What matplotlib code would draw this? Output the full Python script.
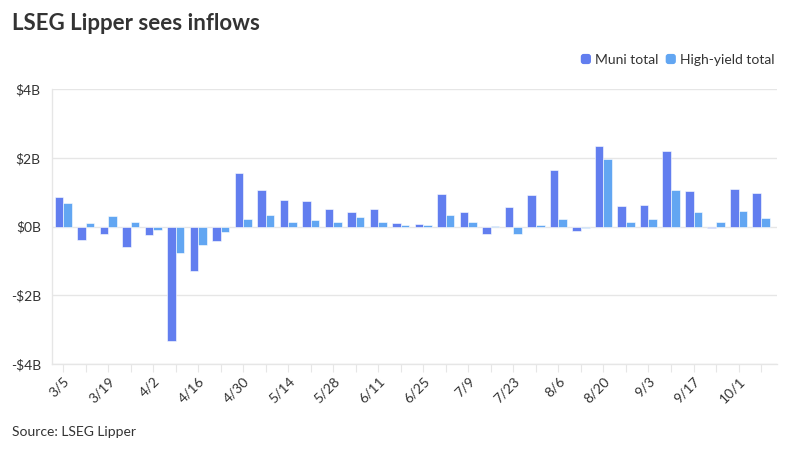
import matplotlib.pyplot as plt
import numpy as np
from matplotlib.patches import FancyBboxPatch
from matplotlib.legend_handler import HandlerPatch

plt.rcParams['font.family'] = ['Lato', 'DejaVu Sans']

# weekly flows, $B
weeks = ['3/5', '3/12', '3/19', '3/26', '4/2', '4/9', '4/16', '4/23',
         '4/30', '5/7', '5/14', '5/21', '5/28', '6/4', '6/11', '6/18',
         '6/25', '7/2', '7/9', '7/16', '7/23', '7/30', '8/6', '8/13',
         '8/20', '8/27', '9/3', '9/10', '9/17', '9/24', '10/1', '10/8']
muni = [0.87, -0.38, -0.22, -0.59, -0.25, -3.33, -1.28, -0.41,
        1.57, 1.05, 0.77, 0.73, 0.52, 0.42, 0.52, 0.10,
        0.07, 0.96, 0.43, -0.23, 0.57, 0.93, 1.66, -0.12,
        2.34, 0.59, 0.62, 2.19, 1.04, -0.03, 1.08, 0.97]
high_yield = [0.68, 0.10, 0.31, 0.14, -0.11, -0.77, -0.53, -0.16,
              0.22, 0.34, 0.14, 0.19, 0.14, 0.28, 0.14, 0.05,
              0.04, 0.34, 0.14, 0.03, -0.21, 0.04, 0.22, -0.03,
              1.97, 0.12, 0.23, 1.06, 0.42, 0.14, 0.45, 0.26]

muni_color = '#627EEF'
hy_color = '#62A6F2'
grid_color = '#E6E6E6'
text_color = '#333333'


class RoundSquare(HandlerPatch):
    def create_artists(self, legend, orig_handle, xdescent, ydescent,
                       width, height, fontsize, trans):
        s = min(width, height)
        p = FancyBboxPatch((-xdescent + (width - s) / 2, -ydescent + (height - s) / 2),
                           s, s, boxstyle='round,pad=0,rounding_size=2',
                           facecolor=orig_handle.get_facecolor(), edgecolor='none',
                           transform=trans)
        return [p]


fig = plt.figure(figsize=(8, 4.5), dpi=100)
ax = fig.add_axes([0.065, 0.191, 0.906, 0.611])

x = np.arange(len(weeks))
w = 0.38
ax.bar(x - w / 2, muni, width=w, color=muni_color, edgecolor='white', linewidth=0.4, zorder=3)
ax.bar(x + w / 2, high_yield, width=w, color=hy_color, edgecolor='white', linewidth=0.4, zorder=3)

ax.set_ylim(-4, 4)
ax.set_xlim(-0.5, len(weeks) - 0.3)
ax.set_yticks([-4, -2, 0, 2, 4])
ax.set_yticklabels(['-$4B', '-$2B', '$0B', '$2B', '$4B'])
ax.yaxis.grid(True, color=grid_color, linewidth=1, zorder=0)
ax.tick_params(axis='y', length=0, labelsize=10, labelcolor=text_color, pad=8)

ax.set_xticks(x)
ax.set_xticklabels([lbl if i % 2 == 0 else '' for i, lbl in enumerate(weeks)],
                   rotation=45, ha='right', rotation_mode='anchor')
ax.tick_params(axis='x', length=6, color=grid_color, labelsize=10,
               labelcolor=text_color, pad=2)

for side in ['top', 'right']:
    ax.spines[side].set_visible(False)
for side in ['left', 'bottom']:
    ax.spines[side].set_color(grid_color)
    ax.spines[side].set_linewidth(1)

fig.text(0.015, 0.948, 'LSEG Lipper sees inflows', fontsize=16, fontweight='bold',
         color=text_color, va='center', ha='left')
fig.text(0.015, 0.04, 'Source: LSEG Lipper', fontsize=10, color=text_color,
         va='center', ha='left')

muni_h = plt.Rectangle((0, 0), 1, 1, facecolor=muni_color)
hy_h = plt.Rectangle((0, 0), 1, 1, facecolor=hy_color)
fig.legend(handles=[muni_h, hy_h], labels=['Muni total', 'High-yield total'],
           handler_map={plt.Rectangle: RoundSquare()},
           loc='center right', bbox_to_anchor=(0.977, 0.867),
           ncol=2, frameon=False, fontsize=10, handlelength=0.75, handleheight=0.75,
           handletextpad=0.3, columnspacing=0.5, borderpad=0, labelcolor=text_color)

fig.savefig('out.png', dpi=100)
